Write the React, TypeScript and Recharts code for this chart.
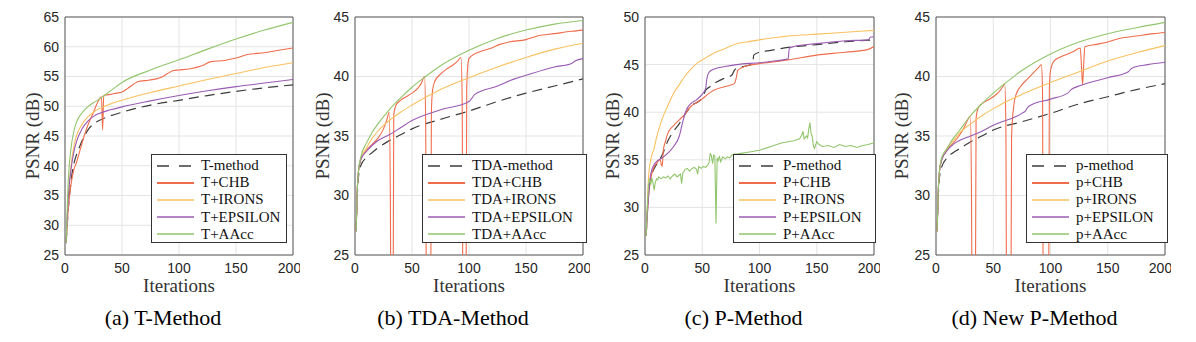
import React from 'react';
import { LineChart, Line, XAxis, YAxis, CartesianGrid, ReferenceArea } from 'recharts';

type Pt = [number, number];

const X_TICKS = [0, 50, 100, 150, 200];
const Y_TICKS_A = [25, 30, 35, 40, 45, 50, 55, 60, 65];
const Y_TICKS_B = [25, 30, 35, 40, 45];
const Y_TICKS_C = [25, 30, 35, 40, 45, 50];
const Y_TICKS_D = [25, 30, 35, 40, 45];

const NAMES_A = ['T-method', 'T+CHB', 'T+IRONS', 'T+EPSILON', 'T+AAcc'];
const NAMES_B = ['TDA-method', 'TDA+CHB', 'TDA+IRONS', 'TDA+EPSILON', 'TDA+AAcc'];
const NAMES_C = ['P-method', 'P+CHB', 'P+IRONS', 'P+EPSILON', 'P+AAcc'];
const NAMES_D = ['p-method', 'p+CHB', 'p+IRONS', 'p+EPSILON', 'p+AAcc'];
const CAPTIONS = ['(a) T-Method', '(b) TDA-Method', '(c) P-Method', '(d) New P-Method'];

// ---- Panel (a) T-Method ----
const A_BASE: Pt[] = [[1,27],[3,33],[5,37],[8,40.5],[10,41.8],[13,43.3],[16,44.6],[20,46],[25,47],[30,47.6],[40,48.4],[50,49],[75,50.2],[100,51],[125,51.8],[150,52.5],[175,53.1],[200,53.6]];
const A_CHB: Pt[] = [[1,27],[3,33],[5,36.5],[8,39.5],[10,40.5],[13,42.5],[16,44.5],[20,46.8],[25,49],[29,50.8],[32,51.6],[33,46],[34,51.8],[36,51.9],[40,52],[45,52.2],[50,52.4],[55,53],[60,53.7],[65,54.2],[70,54.3],[80,54.6],[85,54.9],[90,55.5],[95,56],[100,56.1],[110,56.3],[120,56.8],[128,57.5],[140,57.7],[150,58.1],[160,58.7],[175,59],[190,59.5],[200,59.8]];
const A_IRONS: Pt[] = [[1,27],[3,35],[5,39.5],[8,43.5],[10,45],[15,47],[20,48.2],[25,49],[30,49.6],[40,50.4],[50,51],[75,52.3],[100,53.4],[125,54.5],[150,55.5],[175,56.5],[200,57.3]];
const A_EPS: Pt[] = [[1,27],[3,35],[5,39],[8,42.5],[10,44],[15,46.2],[20,47.5],[25,48.3],[30,48.8],[40,49.4],[50,49.9],[75,50.9],[100,51.8],[125,52.6],[150,53.3],[175,53.9],[200,54.5]];
const A_AACC: Pt[] = [[1,27],[3,38],[5,42.5],[8,46],[10,47.3],[15,48.9],[20,49.9],[25,50.6],[30,51.2],[35,51.9],[40,52.6],[50,54],[75,56.1],[100,57.8],[125,59.6],[150,61.3],[175,62.8],[200,64.1]];

// ---- Panel (b) TDA-Method ----
const B_BASE: Pt[] = [[1,27],[2,30],[3,31.5],[5,32.5],[10,33.2],[15,33.6],[20,34],[30,34.6],[40,35.1],[50,35.6],[75,36.4],[100,37.1],[125,37.9],[150,38.6],[175,39.2],[200,39.8]];
const B_CHB: Pt[] = [[1,27],[2,30.5],[3,32],[5,33],[10,33.8],[15,34.3],[20,34.8],[25,35.6],[28,36.4],[30,37],[31,30],[32,10],[33,10],[34,36.8],[36,37.6],[40,38],[45,38.3],[50,38.6],[55,39],[58,39.4],[61,40],[62,36],[63,10],[66,10],[67,37],[68,38.8],[70,39.6],[75,40.2],[80,40.6],[85,40.9],[90,41.3],[93,41.6],[94,38],[95,10],[97,10],[98,39],[99,41],[100,41.5],[105,41.9],[110,42.1],[120,42.4],[127,42.7],[135,42.9],[150,43.1],[160,43.4],[175,43.6],[190,43.8],[200,43.9]];
const B_IRONS: Pt[] = [[1,27],[2,30.5],[3,32],[5,33],[10,34],[15,34.8],[20,35.4],[30,36.3],[40,37],[50,37.6],[75,38.9],[100,39.9],[125,40.8],[150,41.6],[175,42.3],[200,42.8]];
const B_EPS: Pt[] = [[1,27],[2,30.5],[3,32],[5,33],[10,33.7],[15,34.2],[20,34.6],[30,35.1],[40,35.7],[50,36.3],[75,37.2],[100,37.9],[102,38.1],[105,38.5],[125,39.2],[140,39.8],[150,40.1],[175,40.8],[190,41.1],[193,41.3],[200,41.5]];
const B_AACC: Pt[] = [[1,27],[2,30.5],[3,32],[5,33.2],[10,34.4],[15,35.3],[20,36],[30,37.2],[40,38.2],[50,39.1],[62,40],[75,40.9],[100,42.2],[125,43.2],[150,43.9],[175,44.4],[200,44.7]];

// ---- Panel (c) P-Method ----
const C_BASE: Pt[] = [[1,27],[3,31.5],[5,33],[10,34.5],[15,35.5],[20,37],[25,38],[30,38.8],[35,39.8],[38,40.3],[40,40.7],[45,41],[50,41.5],[53,42.3],[57,42.7],[63,43.2],[70,43.6],[76,43.9],[78,44.4],[80,44.6],[90,44.9],[94,45.1],[95,46],[100,46.3],[110,46.5],[125,46.8],[150,47.1],[175,47.4],[200,47.6]];
const C_CHB: Pt[] = [[1,27],[3,31],[5,33],[8,34.3],[10,34.6],[13,35],[15,34.3],[16,36],[18,37],[20,37.8],[25,38.6],[30,39.2],[35,39.8],[40,40.6],[45,41],[50,41.4],[55,41.9],[60,42.3],[70,42.7],[78,43],[80,43.8],[81,44.4],[85,44.7],[90,44.9],[100,45.1],[125,45.5],[150,46],[175,46.3],[195,46.6],[200,46.9]];
const C_IRONS: Pt[] = [[1,27],[2,30],[3,33],[5,35],[8,36.2],[10,37.3],[15,39.3],[20,40.7],[25,42],[30,42.9],[35,43.8],[40,44.5],[45,45.1],[50,45.5],[60,46.2],[70,46.7],[80,47.2],[90,47.4],[100,47.6],[125,48],[150,48.2],[175,48.4],[200,48.6]];
const C_EPS: Pt[] = [[1,27],[3,31],[5,33.5],[8,34.5],[10,34.8],[15,35.2],[20,35.7],[25,36.4],[30,37.5],[33,39],[36,40.2],[40,40.9],[45,41.3],[50,41.9],[53,42.5],[54,43.5],[56,44.2],[60,44.5],[70,44.8],[80,45],[100,45.2],[115,45.4],[125,45.6],[126,46.7],[130,46.9],[150,47.2],[175,47.5],[195,47.6],[197,47.9],[200,47.9]];
const C_AACC: Pt[] = [[1,27],[2,30],[3,32.3],[4,33],[5,32.4],[6,33.1],[7,32.6],[8,31.8],[9,32.6],[10,33],[11,32.9],[12,33.2],[14,33],[16,33.2],[18,33.1],[20,33.3],[22,33],[24,33.3],[26,33.5],[28,33.2],[30,33.4],[31,33.5],[32,32.5],[33,33.6],[35,34],[37,34.1],[39,33.8],[41,34.1],[43,34.2],[45,34],[46,33.5],[47,34.3],[49,34.1],[51,34.3],[53,34.2],[55,34.5],[56,34.7],[57,35.7],[58,35.4],[59,34.6],[60,35.5],[61,35.4],[62,28.3],[63,35.2],[64,34.9],[65,35.4],[66,34.8],[68,35.3],[70,35.1],[72,35.3],[74,35.2],[76,35.5],[78,35.6],[80,35.6],[85,35.7],[90,35.8],[95,35.9],[100,36],[105,36.2],[110,36.4],[115,36.6],[120,36.8],[125,36.9],[130,37],[135,37.2],[137,37.6],[138,38],[139,37.2],[141,37.5],[142,37.3],[143,38.2],[144,38.9],[145,37.8],[146,37.5],[147,36.5],[148,36.2],[150,36.9],[152,36.6],[155,36.4],[160,36.5],[165,36.3],[170,36.6],[175,36.4],[180,36.5],[185,36.3],[190,36.5],[195,36.6],[200,36.8]];

// ---- Panel (d) New P-Method ----
const D_BASE: Pt[] = [[1,27],[2,30],[3,31.5],[5,32.4],[10,33.2],[15,33.6],[20,33.9],[25,34.2],[30,34.5],[40,35],[50,35.5],[75,36.2],[100,36.9],[125,37.7],[150,38.3],[175,38.9],[200,39.4]];
const D_CHB: Pt[] = [[1,27],[2,30.5],[3,32],[5,33],[10,33.9],[15,34.4],[20,35],[25,35.8],[28,36.4],[30,36.7],[31,30],[32,10],[34,10],[35,36.5],[37,37.4],[40,37.7],[45,38],[50,38.3],[55,38.7],[58,39.1],[60,39.4],[61,36],[62,10],[65,10],[66,35],[68,37.6],[70,38.5],[75,39.3],[80,39.8],[85,40.3],[90,40.8],[92,41],[93,39],[94,10],[98,10],[99,39],[100,40.5],[103,41.3],[110,41.7],[120,42.1],[126,42.4],[127,41],[128,39.3],[129,41],[130,42.5],[140,42.7],[150,42.9],[160,43.2],[175,43.4],[190,43.6],[200,43.7]];
const D_IRONS: Pt[] = [[1,27],[2,30.5],[3,32],[5,33],[10,34],[15,34.6],[20,35.2],[30,36],[40,36.7],[50,37.3],[75,38.5],[100,39.5],[125,40.4],[150,41.3],[175,42],[200,42.6]];
const D_EPS: Pt[] = [[1,27],[2,30.5],[3,32],[5,33],[10,33.8],[15,34.3],[20,34.6],[30,35],[40,35.4],[50,35.9],[75,36.9],[78,37.1],[81,37.5],[100,38.1],[115,38.6],[118,38.9],[125,39.2],[150,39.9],[168,40.4],[171,40.7],[185,41],[200,41.2]];
const D_AACC: Pt[] = [[1,27],[2,30.5],[3,32],[5,33.2],[10,34],[15,34.8],[20,35.4],[30,36.7],[40,37.7],[50,38.6],[60,39.4],[75,40.5],[100,41.9],[125,42.9],[150,43.6],[175,44.1],[200,44.55]];

const COLORS = ['#3c3c3c', '#EF6D4C', '#F9C15F', '#9A5BB3', '#92C56C'];
const DASHES = ['10 6', undefined, undefined, undefined, undefined];

const toData = (pts: Pt[]) => pts.map(([x, y]) => ({ x, y }));

interface PanelProps {
  left: number;
  plotLeft: number;
  plotRight: number;
  yDomain: [number, number];
  yTicks: number[];
  series: Pt[][];
  names: string[];
  legendLeft: number;
  legendWidth: number;
  caption: string;
  yLabelX: number;
  noisyIndex?: number;
}

const SERIF = '"Liberation Serif", "Times New Roman", serif';
const SANS = '"Liberation Sans", Arial, sans-serif';

function Panel(p: PanelProps) {
  const W = 300;
  const plotTop = 17;
  const plotBottom = 255;
  const cx = (p.plotLeft + p.plotRight) / 2;
  return (
    <>
      <div style={{ position: 'absolute', left: p.left, top: 0 }}>
        <LineChart
          width={W}
          height={342}
          margin={{ top: plotTop, right: W - (p.plotRight - p.left), bottom: 57, left: 0 }}
        >
          <CartesianGrid stroke="#e4e4e4" strokeWidth={1} />
          <XAxis
            dataKey="x"
            type="number"
            domain={[0, 200]}
            ticks={X_TICKS}
            height={30}
            axisLine={false}
            tickLine={false}
            tickSize={3}
            tickMargin={5}
            tick={{ fill: '#262626', fontSize: 14, fontFamily: SANS }}
            allowDataOverflow
          />
          <YAxis
            dataKey="y"
            type="number"
            domain={p.yDomain}
            ticks={p.yTicks}
            width={p.plotLeft - p.left}
            axisLine={false}
            tickLine={false}
            tickSize={3}
            tickMargin={3}
            tick={{ fill: '#262626', fontSize: 14, fontFamily: SANS }}
            allowDataOverflow
          />
          {p.series.map((s, i) => (
            <Line
              key={i}
              data={toData(s)}
              dataKey="y"
              name={p.names[i]}
              type={i === p.noisyIndex ? 'linear' : 'monotone'}
              stroke={COLORS[i]}
              strokeWidth={i === 0 ? 1.2 : 1.1}
              strokeDasharray={DASHES[i]}
              dot={false}
              activeDot={false}
              isAnimationActive={false}
            />
          ))}
          <ReferenceArea
            x1={0}
            x2={200}
            y1={p.yDomain[0]}
            y2={p.yDomain[1]}
            fill="none"
            stroke="#5a5a5a"
            strokeWidth={1}
            fillOpacity={0}
          />
        </LineChart>
      </div>
      <div
        style={{
          position: 'absolute',
          left: p.legendLeft,
          top: 154,
          width: p.legendWidth,
          height: 89,
          boxSizing: 'border-box',
          border: '1px solid #333',
          background: '#fff',
          paddingTop: 2,
        }}
      >
        {p.names.map((n, i) => (
          <div key={i} style={{ display: 'flex', alignItems: 'center', height: 17.2 }}>
            <svg width={44} height={10} style={{ marginLeft: 5, flex: 'none' }}>
              <line
                x1={0}
                y1={5}
                x2={37}
                y2={5}
                stroke={COLORS[i]}
                strokeWidth={i === 1 ? 2 : 1.3}
                strokeDasharray={i === 0 ? '12 10' : undefined}
              />
            </svg>
            <span style={{ fontFamily: SERIF, fontSize: 15, color: '#111', whiteSpace: 'nowrap', lineHeight: 1 }}>{n}</span>
          </div>
        ))}
      </div>
      <div
        style={{
          position: 'absolute',
          left: cx,
          top: 285,
          transform: 'translate(-50%, -50%)',
          fontFamily: SERIF,
          fontSize: 19,
          color: '#333',
          whiteSpace: 'nowrap',
          lineHeight: 1,
        }}
      >
        Iterations
      </div>
      <div
        style={{
          position: 'absolute',
          left: p.yLabelX,
          top: 136,
          transform: 'translate(-50%, -50%) rotate(-90deg)',
          fontFamily: SERIF,
          fontSize: 19,
          color: '#333',
          whiteSpace: 'nowrap',
          lineHeight: 1,
        }}
      >
        PSNR (dB)
      </div>
      <div
        style={{
          position: 'absolute',
          left: cx - 16,
          top: 318,
          transform: 'translate(-50%, -50%)',
          fontFamily: SERIF,
          fontSize: 22,
          color: '#000',
          whiteSpace: 'nowrap',
          lineHeight: 1,
        }}
      >
        {p.caption}
      </div>
    </>
  );
}

export default function App() {
  return (
    <div style={{ position: 'absolute', left: 0, top: 0, width: 1196, height: 342, background: '#fff', overflow: 'hidden' }}>
      <Panel
        left={0}
        plotLeft={65}
        plotRight={293}
        yDomain={[25, 65]}
        yTicks={Y_TICKS_A}
        series={[A_BASE, A_CHB, A_IRONS, A_EPS, A_AACC]}
        names={NAMES_A}
        legendLeft={151}
        legendWidth={136}
        caption={CAPTIONS[0]}
        yLabelX={32}
      />
      <Panel
        left={290}
        plotLeft={355}
        plotRight={583}
        yDomain={[25, 45]}
        yTicks={Y_TICKS_B}
        series={[B_BASE, B_CHB, B_IRONS, B_EPS, B_AACC]}
        names={NAMES_B}
        legendLeft={422}
        legendWidth={165}
        caption={CAPTIONS[1]}
        yLabelX={322}
      />
      <Panel
        left={580}
        plotLeft={645}
        plotRight={874}
        yDomain={[25, 50]}
        yTicks={Y_TICKS_C}
        series={[C_BASE, C_CHB, C_IRONS, C_EPS, C_AACC]}
        names={NAMES_C}
        legendLeft={733}
        legendWidth={143}
        caption={CAPTIONS[2]}
        yLabelX={612}
        noisyIndex={4}
      />
      <Panel
        left={871}
        plotLeft={936}
        plotRight={1165}
        yDomain={[25, 45]}
        yTicks={Y_TICKS_D}
        series={[D_BASE, D_CHB, D_IRONS, D_EPS, D_AACC]}
        names={NAMES_D}
        legendLeft={1026}
        legendWidth={142}
        caption={CAPTIONS[3]}
        yLabelX={901}
      />
    </div>
  );
}
